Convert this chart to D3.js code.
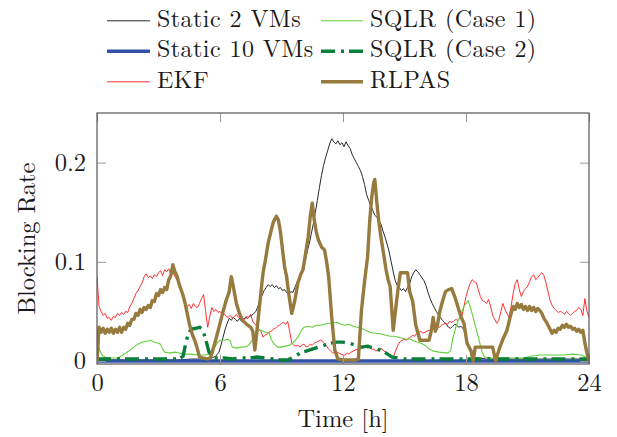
<!DOCTYPE html>
<html>
<head>
<meta charset="utf-8">
<script src="https://cdn.jsdelivr.net/npm/d3@7"></script>
<style>
  body { margin: 0; background: #fff; }
  svg { display: block; }
</style>
</head>
<body>
<svg id="chart" width="617" height="437"></svg>
<script>
// ---- data: [hour, blocking rate] ----
const timeTicks = [0, 6, 12, 18, 24];
const rateTicks = [0, 0.1, 0.2];

const static2VMs = [
  [0,0.001],[1,0.001],[2,0.001],[3,0.001],[4,0.001],[4.6,0.002],[5.0,0.002],[5.4,0.003],[5.6,0.003],
  [5.8,0.005],[5.95,0.009],[6.05,0.016],[6.15,0.024],[6.25,0.032],[6.35,0.038],[6.45,0.043],[6.55,0.041],
  [6.65,0.044],[6.75,0.042],[6.85,0.04],[6.95,0.043],[7.05,0.04],[7.15,0.042],[7.25,0.044],[7.35,0.043],
  [7.45,0.045],[7.55,0.046],[7.65,0.048],[7.75,0.05],[7.85,0.055],[7.95,0.062],[8.05,0.066],[8.15,0.071],
  [8.25,0.074],[8.35,0.077],[8.45,0.075],[8.55,0.077],[8.65,0.074],[8.75,0.076],[8.85,0.073],[8.95,0.074],
  [9.05,0.071],[9.15,0.072],[9.25,0.069],[9.35,0.067],[9.45,0.07],[9.55,0.069],[9.65,0.074],[9.75,0.079],
  [9.85,0.083],[9.95,0.088],[10.05,0.094],[10.15,0.1],[10.25,0.11],[10.35,0.118],[10.45,0.128],[10.55,0.138],
  [10.65,0.15],[10.75,0.162],[10.85,0.175],[10.95,0.187],[11.05,0.197],[11.15,0.205],[11.25,0.212],
  [11.35,0.219],[11.45,0.224],[11.55,0.221],[11.65,0.219],[11.75,0.222],[11.85,0.218],[11.95,0.22],
  [12.05,0.216],[12.15,0.221],[12.25,0.217],[12.35,0.214],[12.45,0.208],[12.55,0.204],[12.65,0.2],
  [12.75,0.196],[12.85,0.192],[12.95,0.186],[13.05,0.178],[13.15,0.168],[13.25,0.162],[13.35,0.157],
  [13.45,0.152],[13.55,0.147],[13.65,0.145],[13.75,0.142],[13.85,0.138],[13.95,0.131],[14.05,0.125],
  [14.15,0.118],[14.25,0.11],[14.35,0.1],[14.45,0.09],[14.55,0.081],[14.65,0.076],[14.75,0.074],
  [14.85,0.071],[14.95,0.073],[15.05,0.07],[15.15,0.074],[15.25,0.078],[15.35,0.085],[15.45,0.089],
  [15.55,0.092],[15.65,0.09],[15.75,0.087],[15.85,0.084],[15.95,0.081],[16.05,0.076],[16.15,0.069],
  [16.25,0.063],[16.35,0.058],[16.45,0.054],[16.55,0.05],[16.65,0.047],[16.75,0.044],[16.85,0.041],
  [16.95,0.039],[17.05,0.037],[17.15,0.034],[17.25,0.033],[17.35,0.035],[17.45,0.037],[17.55,0.036],
  [17.65,0.034],[17.75,0.035],[17.85,0.033],[17.95,0.029],[18.05,0.021],[18.15,0.013],[18.25,0.008],
  [18.35,0.004],[18.6,0.003],[19,0.002],[20,0.002],[21,0.002],[22,0.002],[23,0.002],[24,0.002]
];

const static10VMs = [[0,0],[6,0],[12,0],[18,0],[24,0]];

const ekf = [
  [0,0.085],[0.05,0.07],[0.1,0.055],[0.2,0.05],[0.3,0.046],[0.4,0.048],[0.5,0.043],[0.6,0.044],[0.7,0.041],
  [0.8,0.045],[0.9,0.044],[1.0,0.048],[1.1,0.046],[1.2,0.049],[1.3,0.047],[1.4,0.05],[1.5,0.049],[1.6,0.055],
  [1.7,0.058],[1.8,0.063],[1.9,0.068],[2.0,0.071],[2.1,0.075],[2.2,0.079],[2.3,0.085],[2.4,0.088],[2.5,0.084],
  [2.6,0.086],[2.7,0.083],[2.8,0.087],[2.9,0.085],[3.0,0.089],[3.1,0.091],[3.2,0.086],[3.3,0.092],[3.4,0.09],
  [3.5,0.093],[3.6,0.088],[3.7,0.09],[3.8,0.085],[3.9,0.082],[4.0,0.078],[4.1,0.072],[4.2,0.066],[4.3,0.06],
  [4.4,0.055],[4.5,0.057],[4.6,0.053],[4.7,0.058],[4.8,0.055],[4.9,0.054],[5.0,0.058],[5.1,0.063],[5.2,0.067],
  [5.3,0.05],[5.4,0.034],[5.5,0.045],[5.6,0.054],[5.7,0.05],[5.8,0.052],[5.9,0.049],[6.0,0.05],[6.1,0.047],
  [6.2,0.048],[6.3,0.045],[6.4,0.044],[6.5,0.046],[6.6,0.043],[6.7,0.045],[6.8,0.047],[6.9,0.044],[7.0,0.045],
  [7.1,0.043],[7.2,0.042],[7.3,0.045],[7.4,0.044],[7.5,0.047],[7.6,0.04],[7.7,0.037],[7.8,0.035],[7.9,0.032],
  [8.0,0.03],[8.1,0.024],[8.2,0.026],[8.3,0.027],[8.4,0.029],[8.5,0.03],[8.6,0.032],[8.7,0.033],[8.8,0.035],
  [8.9,0.036],[9.0,0.038],[9.1,0.039],[9.2,0.037],[9.3,0.04],[9.4,0.03],[9.5,0.018],[9.6,0.016],[9.7,0.015],
  [9.8,0.016],[9.9,0.014],[10.0,0.016],[10.1,0.017],[10.2,0.014],[10.3,0.015],[10.4,0.017],[10.5,0.016],
  [10.6,0.018],[10.7,0.019],[10.8,0.02],[10.9,0.021],[11.0,0.02],[11.1,0.018],[11.2,0.015],[11.3,0.012],
  [11.4,0.01],[11.5,0.008],[11.6,0.009],[11.7,0.009],[11.8,0.008],[11.9,0.007],[12.0,0.006],[12.1,0.006],
  [12.2,0.008],[12.3,0.007],[12.4,0.009],[12.5,0.01],[12.6,0.011],[12.7,0.012],[12.8,0.011],[12.9,0.013],
  [13.0,0.014],[13.1,0.015],[13.2,0.013],[13.3,0.014],[13.4,0.012],[13.5,0.012],[13.6,0.01],[13.7,0.011],
  [13.8,0.013],[13.9,0.012],[14.0,0.01],[14.1,0.009],[14.2,0.007],[14.3,0.005],[14.45,0.004],[14.6,0.012],
  [14.7,0.017],[14.8,0.02],[14.9,0.021],[15.0,0.022],[15.1,0.021],[15.2,0.023],[15.3,0.024],[15.4,0.026],
  [15.5,0.025],[15.6,0.028],[15.7,0.029],[15.8,0.03],[15.9,0.028],[16.0,0.029],[16.1,0.03],[16.2,0.031],
  [16.3,0.03],[16.4,0.033],[16.5,0.032],[16.6,0.035],[16.7,0.034],[16.8,0.036],[16.9,0.037],[17.0,0.038],
  [17.1,0.037],[17.2,0.04],[17.3,0.039],[17.4,0.04],[17.5,0.042],[17.6,0.041],[17.7,0.043],[17.8,0.045],
  [17.9,0.055],[18.0,0.065],[18.1,0.072],[18.2,0.078],[18.3,0.082],[18.4,0.08],[18.5,0.079],[18.6,0.072],
  [18.7,0.065],[18.8,0.061],[18.9,0.06],[19.0,0.058],[19.1,0.062],[19.2,0.055],[19.3,0.046],[19.4,0.042],
  [19.5,0.038],[19.6,0.041],[19.7,0.05],[19.8,0.058],[19.9,0.052],[20.0,0.048],[20.1,0.044],[20.2,0.055],
  [20.3,0.068],[20.4,0.078],[20.5,0.082],[20.6,0.072],[20.7,0.065],[20.8,0.07],[20.9,0.073],[21.0,0.075],
  [21.1,0.08],[21.2,0.085],[21.3,0.087],[21.4,0.082],[21.5,0.084],[21.6,0.087],[21.7,0.089],[21.8,0.086],
  [21.9,0.079],[22.0,0.07],[22.1,0.061],[22.2,0.056],[22.3,0.053],[22.4,0.051],[22.5,0.049],[22.6,0.05],
  [22.7,0.049],[22.8,0.047],[22.9,0.05],[23.0,0.048],[23.1,0.046],[23.2,0.048],[23.3,0.05],[23.4,0.051],
  [23.5,0.054],[23.6,0.052],[23.7,0.046],[23.8,0.063],[23.9,0.05],[24.0,0.044]
];

const sqlrCase1 = [
  [0,0.018],[0.1,0.012],[0.2,0.008],[0.3,0.005],[0.4,0.004],[0.6,0.003],[0.8,0.003],[1.0,0.003],[1.2,0.005],
  [1.4,0.008],[1.6,0.011],[1.8,0.014],[2.0,0.017],[2.2,0.019],[2.4,0.02],[2.6,0.021],[2.8,0.019],[3.0,0.018],
  [3.1,0.017],[3.2,0.012],[3.3,0.009],[3.5,0.008],[3.8,0.009],[4.0,0.008],[4.3,0.007],[4.6,0.007],[5.0,0.006],
  [5.3,0.006],[5.5,0.008],[5.7,0.013],[5.9,0.019],[6.0,0.021],[6.2,0.021],[6.4,0.022],[6.5,0.02],[6.6,0.014],
  [6.8,0.013],[7.0,0.014],[7.2,0.014],[7.4,0.016],[7.6,0.022],[7.8,0.03],[8.0,0.031],[8.2,0.029],[8.4,0.028],
  [8.5,0.022],[8.6,0.018],[8.8,0.014],[9.0,0.014],[9.2,0.015],[9.4,0.016],[9.6,0.019],[9.8,0.024],[10.0,0.032],
  [10.1,0.034],[10.3,0.035],[10.5,0.034],[10.7,0.036],[10.9,0.036],[11.1,0.037],[11.3,0.038],[11.5,0.038],
  [11.7,0.039],[11.9,0.037],[12.1,0.036],[12.3,0.037],[12.5,0.035],[12.7,0.034],[12.9,0.033],[13.1,0.031],
  [13.3,0.029],[13.5,0.028],[13.7,0.028],[13.9,0.027],[14.1,0.026],[14.3,0.025],[14.5,0.025],[14.7,0.024],
  [14.9,0.023],[15.1,0.022],[15.3,0.022],[15.5,0.02],[15.8,0.018],[16.0,0.016],[16.2,0.012],[16.4,0.01],
  [16.7,0.009],[17.1,0.008],[17.25,0.01],[17.35,0.022],[17.5,0.034],[17.7,0.045],[17.9,0.055],[18.1,0.061],
  [18.2,0.055],[18.35,0.044],[18.5,0.032],[18.6,0.024],[18.8,0.008],[18.9,0.004],[19.2,0.003],[19.6,0.003],
  [20.0,0.003],[20.4,0.003],[20.8,0.003],[21.2,0.005],[21.6,0.006],[22.0,0.006],[22.4,0.006],[22.8,0.006],
  [23.2,0.007],[23.6,0.006],[24,0.003]
];

const sqlrCase2 = [
  [0,0.002],[0.5,0.002],[1,0.002],[1.5,0.002],[2,0.002],[2.5,0.002],[3,0.002],[3.5,0.002],[4.0,0.002],
  [4.2,0.005],[4.3,0.015],[4.45,0.028],[4.6,0.032],[4.8,0.033],[5.0,0.034],[5.15,0.032],[5.3,0.022],
  [5.45,0.01],[5.6,0.004],[5.8,0.003],[6.2,0.003],[6.6,0.002],[7.0,0.003],[7.4,0.003],[7.8,0.004],
  [8.2,0.003],[8.6,0.002],[9.0,0.001],[9.3,0.001],[9.6,0.004],[9.9,0.008],[10.2,0.01],[10.5,0.012],
  [10.8,0.014],[11.1,0.016],[11.4,0.018],[11.7,0.019],[12.0,0.019],[12.3,0.018],[12.6,0.016],[12.9,0.014],
  [13.2,0.015],[13.5,0.013],[13.8,0.011],[14.1,0.008],[14.4,0.004],[14.7,0.003],[15,0.002],[16,0.002],
  [17,0.002],[18,0.002],[19,0.002],[20,0.002],[21,0.002],[22,0.002],[23,0.002],[24,0.002]
];

const rlpas = [
  [0,0.0],[0.04,0.012],[0.08,0.03],[0.1,0.034],[0.2,0.029],[0.3,0.033],[0.4,0.028],[0.5,0.032],[0.6,0.029],
  [0.7,0.033],[0.8,0.028],[0.9,0.032],[1.0,0.029],[1.1,0.034],[1.2,0.029],[1.3,0.034],[1.4,0.032],[1.5,0.038],
  [1.6,0.036],[1.7,0.042],[1.8,0.042],[1.9,0.048],[2.0,0.046],[2.1,0.052],[2.2,0.049],[2.3,0.054],[2.4,0.052],
  [2.5,0.056],[2.6,0.054],[2.7,0.061],[2.8,0.06],[2.9,0.068],[3.0,0.066],[3.1,0.072],[3.2,0.069],[3.3,0.074],
  [3.4,0.072],[3.5,0.082],[3.6,0.086],[3.7,0.097],[3.8,0.09],[3.9,0.086],[4.0,0.078],[4.1,0.072],[4.2,0.066],
  [4.3,0.058],[4.4,0.048],[4.5,0.038],[4.6,0.03],[4.7,0.024],[4.8,0.019],[4.9,0.012],[5.0,0.004],[5.2,0.003],
  [5.4,0.002],[5.55,0.004],[5.65,0.011],[5.8,0.022],[6.0,0.038],[6.15,0.05],[6.3,0.061],[6.45,0.07],
  [6.55,0.085],[6.65,0.075],[6.8,0.058],[6.95,0.048],[7.1,0.041],[7.3,0.037],[7.5,0.034],[7.6,0.03],
  [7.7,0.011],[7.8,0.03],[7.9,0.05],[8.0,0.07],[8.1,0.089],[8.2,0.1],[8.35,0.119],[8.5,0.132],[8.6,0.14],
  [8.75,0.146],[8.85,0.142],[8.95,0.13],[9.05,0.112],[9.15,0.095],[9.25,0.085],[9.35,0.068],[9.5,0.048],
  [9.65,0.061],[9.8,0.079],[9.95,0.088],[10.05,0.092],[10.15,0.105],[10.3,0.125],[10.4,0.145],[10.5,0.159],
  [10.6,0.142],[10.7,0.13],[10.8,0.122],[10.95,0.115],[11.1,0.112],[11.2,0.1],[11.3,0.085],[11.45,0.044],
  [11.6,0.011],[11.75,0.002],[12.0,0.001],[12.3,0.001],[12.6,0.001],[12.75,0.002],[12.9,0.051],[13.05,0.08],
  [13.2,0.105],[13.3,0.14],[13.4,0.165],[13.5,0.18],[13.55,0.183],[13.65,0.16],[13.75,0.14],[13.85,0.125],
  [13.95,0.112],[14.1,0.092],[14.2,0.082],[14.3,0.075],[14.45,0.031],[14.6,0.058],[14.7,0.075],[14.8,0.089],
  [15.0,0.089],[15.15,0.089],[15.25,0.07],[15.4,0.06],[15.55,0.036],[15.75,0.021],[16.0,0.021],[16.2,0.021],
  [16.3,0.03],[16.4,0.044],[16.5,0.03],[16.6,0.035],[16.7,0.048],[16.85,0.06],[17.0,0.07],[17.15,0.072],
  [17.3,0.073],[17.45,0.065],[17.6,0.055],[17.75,0.045],[17.9,0.038],[18.05,0.018],[18.25,0.01],[18.35,0.0],
  [18.45,0.014],[18.7,0.014],[19.0,0.014],[19.3,0.014],[19.45,0.0],[19.6,0.011],[19.8,0.022],[20.0,0.031],
  [20.15,0.044],[20.3,0.055],[20.4,0.052],[20.5,0.058],[20.6,0.054],[20.7,0.057],[20.8,0.052],[20.9,0.055],
  [21.0,0.051],[21.1,0.055],[21.2,0.051],[21.3,0.054],[21.4,0.05],[21.5,0.053],[21.6,0.051],[21.7,0.048],
  [21.8,0.043],[21.9,0.04],[22.0,0.036],[22.1,0.032],[22.2,0.028],[22.3,0.031],[22.4,0.029],[22.5,0.033],
  [22.6,0.032],[22.7,0.036],[22.8,0.034],[22.9,0.037],[23.0,0.034],[23.1,0.035],[23.2,0.032],[23.3,0.033],
  [23.4,0.03],[23.5,0.032],[23.6,0.029],[23.7,0.031],[23.8,0.018],[23.9,0.008],[24,0.0]
];

const seriesNames = ["Static 2 VMs", "Static 10 VMs", "EKF", "SQLR (Case 1)", "SQLR (Case 2)", "RLPAS"];
const seriesData = [static2VMs, static10VMs, ekf, sqlrCase1, sqlrCase2, rlpas];
const seriesStyle = [
  { color: "#111111", width: 0.9, dash: null },
  { color: "#3152a6", width: 3.6, dash: null },
  { color: "#ff1a1a", width: 0.9, dash: null },
  { color: "#62cf3c", width: 1.1, dash: null },
  { color: "#0a7f3a", width: 3.4, dash: "14 6 3 5" },
  { color: "#977a3d", width: 3.4, dash: null }
];

const FONT = '"Latin Modern Roman", "Liberation Serif", serif';

// ---- layout ----
const svg = d3.select("#chart");
const plot = { left: 97, right: 589, top: 113, bottom: 364 };

const x = d3.scaleLinear().domain([0, 24]).range([plot.left, plot.right]);
const y = d3.scaleLinear().domain([-0.003, 0.25]).range([plot.bottom, plot.top]);

svg.append("defs").append("clipPath").attr("id", "plot-clip")
  .append("rect")
  .attr("x", plot.left).attr("y", plot.top)
  .attr("width", plot.right - plot.left).attr("height", plot.bottom - plot.top);

// series
const line = d3.line().x(d => x(d[0])).y(d => y(d[1]));
const lines = svg.append("g").attr("clip-path", "url(#plot-clip)");
seriesData.forEach((data, i) => {
  const s = seriesStyle[i];
  lines.append("path")
    .datum(data)
    .attr("d", line)
    .attr("fill", "none")
    .attr("stroke", s.color)
    .attr("stroke-width", s.width)
    .attr("stroke-linejoin", "round")
    .attr("stroke-dasharray", s.dash);
});

// axes: inward ticks on all four sides, labels on bottom and left
const tickLen = 9;
const fmtRate = d => d === 0 ? "0" : d3.format(".1f")(d);

const xBottom = svg.append("g").attr("transform", `translate(0,${plot.bottom})`)
  .call(d3.axisBottom(x).tickValues(timeTicks).tickSizeInner(-tickLen).tickSizeOuter(0).tickPadding(10));
const xTop = svg.append("g").attr("transform", `translate(0,${plot.top})`)
  .call(d3.axisTop(x).tickValues(timeTicks).tickSizeInner(-tickLen).tickSizeOuter(0).tickFormat(""));
const yLeft = svg.append("g").attr("transform", `translate(${plot.left},0)`)
  .call(d3.axisLeft(y).tickValues(rateTicks).tickSizeInner(-tickLen).tickSizeOuter(0).tickPadding(11).tickFormat(fmtRate));
const yRight = svg.append("g").attr("transform", `translate(${plot.right},0)`)
  .call(d3.axisRight(y).tickValues(rateTicks).tickSizeInner(-tickLen).tickSizeOuter(0).tickFormat(""));

[xBottom, xTop, yLeft, yRight].forEach(g => {
  g.attr("font-family", null).attr("font-size", null);
  g.select(".domain").remove();
  g.selectAll(".tick line").attr("stroke", "#9a9a9a").attr("stroke-width", 1);
  g.selectAll(".tick text")
    .style("font-family", FONT)
    .style("font-size", "24.5px")
    .attr("fill", "#1a1a1a");
});

// frame
svg.append("rect")
  .attr("x", plot.left).attr("y", plot.top)
  .attr("width", plot.right - plot.left).attr("height", plot.bottom - plot.top)
  .attr("fill", "none").attr("stroke", "#555").attr("stroke-width", 1.2);

// axis titles
svg.append("text")
  .attr("x", (plot.left + plot.right) / 2).attr("y", 427)
  .attr("text-anchor", "middle")
  .style("font-family", FONT).style("font-size", "24.5px")
  .attr("fill", "#1a1a1a")
  .text("Time [h]");

svg.append("text")
  .attr("transform", `translate(35,${(plot.top + plot.bottom) / 2}) rotate(-90)`)
  .attr("text-anchor", "middle")
  .style("font-family", FONT).style("font-size", "24.5px")
  .attr("fill", "#1a1a1a")
  .text("Blocking Rate");

// legend: two columns, three rows
const legendRows = [20.8, 51.3, 81.8];
const legendCols = [{ x0: 107, x1: 150, tx: 157 }, { x0: 321, x1: 363, tx: 370 }];
const legendOrder = [[0, 3], [1, 4], [2, 5]];
const legend = svg.append("g");
legendOrder.forEach((row, r) => {
  row.forEach((idx, c) => {
    const col = legendCols[c];
    const s = seriesStyle[idx];
    legend.append("line")
      .attr("x1", col.x0).attr("x2", col.x1)
      .attr("y1", legendRows[r]).attr("y2", legendRows[r])
      .attr("stroke", s.color).attr("stroke-width", s.width)
      .attr("stroke-dasharray", s.dash);
    legend.append("text")
      .attr("x", col.tx).attr("y", legendRows[r] + 6)
      .style("font-family", FONT).style("font-size", "24px")
      .style("letter-spacing", "0.45px")
      .attr("fill", "#1a1a1a")
      .text(seriesNames[idx]);
  });
});
</script>
</body>
</html>
